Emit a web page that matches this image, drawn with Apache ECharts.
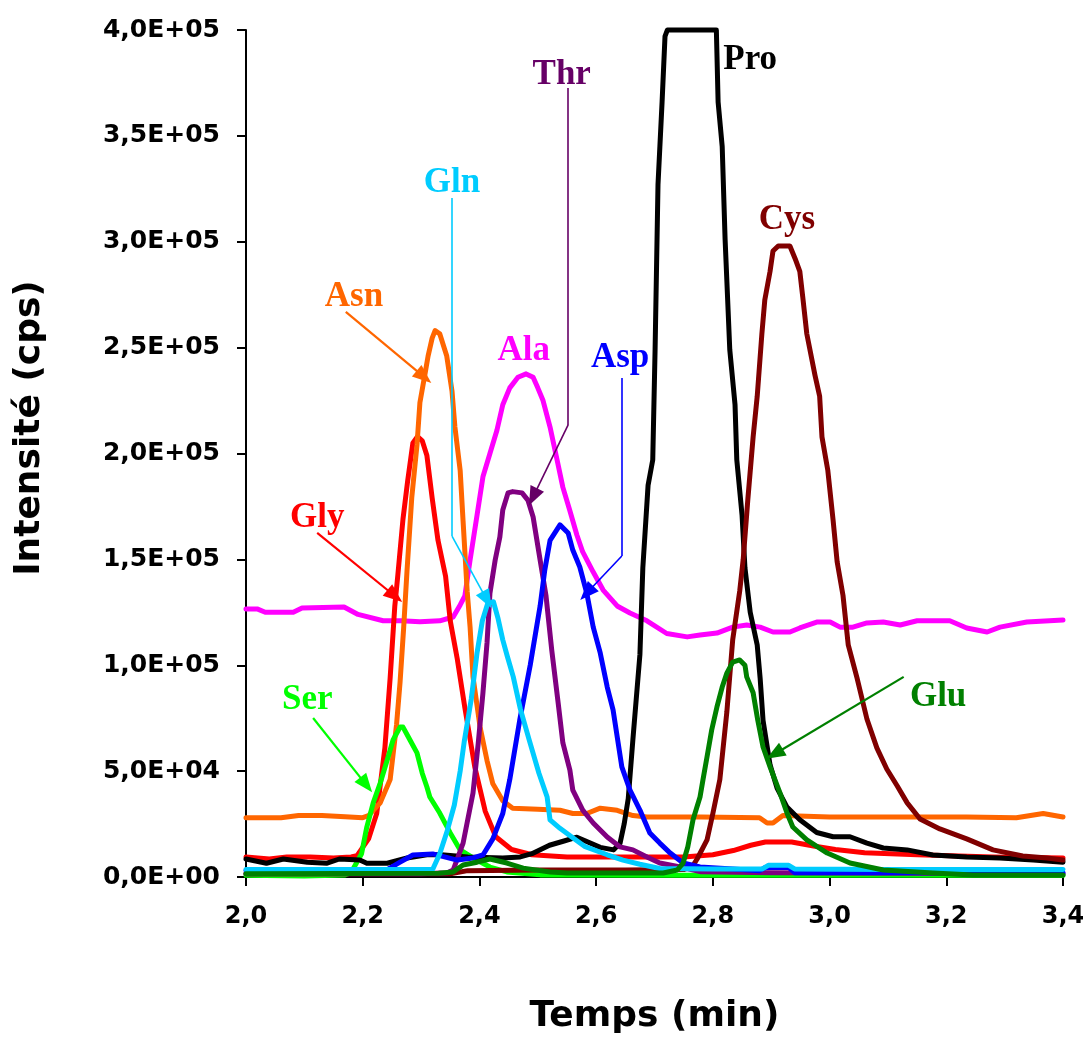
<!DOCTYPE html>
<html><head><meta charset="utf-8">
<script src="https://cdn.jsdelivr.net/npm/echarts@6/dist/echarts.min.js"></script>
<style>html,body{margin:0;padding:0;background:#fff}#c{width:1083px;height:1039px}</style>
</head><body><div id="c"></div>
<script>
// ---- data: [time (min), intensity (cps)] ----
const ala = [[2.0,126600],[2.019,126600],[2.033,125000],[2.081,125000],[2.096,127000],[2.168,127500],[2.192,124000],[2.235,121000],[2.266,121000],[2.298,120500],[2.332,121000],[2.355,122800],[2.367,128500],[2.375,132700],[2.384,149700],[2.396,171000],[2.406,189000],[2.418,200000],[2.43,211000],[2.44,223000],[2.452,231000],[2.466,236000],[2.48,237600],[2.492,236000],[2.5,231000],[2.509,225000],[2.521,212500],[2.533,197000],[2.543,184000],[2.555,173000],[2.567,161500],[2.577,153500],[2.595,144000],[2.612,135500],[2.636,128000],[2.658,124700],[2.687,121000],[2.721,115000],[2.756,113400],[2.778,114300],[2.807,115200],[2.834,118000],[2.858,119000],[2.881,118000],[2.903,115700],[2.932,115700],[2.949,117600],[2.978,120400],[3.001,120400],[3.018,118000],[3.04,118000],[3.064,120000],[3.092,120400],[3.121,119000],[3.15,121000],[3.206,121000],[3.235,117600],[3.27,115700],[3.292,118000],[3.338,120400],[3.4,121400]];
const gly = [[2.0,9500],[2.04,8500],[2.07,9500],[2.11,9500],[2.15,9000],[2.18,9500],[2.19,10000],[2.21,18000],[2.224,30000],[2.238,61000],[2.247,94000],[2.255,128000],[2.26,142000],[2.269,169000],[2.277,187000],[2.286,205000],[2.294,208000],[2.302,206000],[2.31,199000],[2.319,179000],[2.329,159000],[2.342,142000],[2.35,121000],[2.362,103000],[2.375,80000],[2.392,52000],[2.41,31000],[2.428,19000],[2.455,13000],[2.49,10500],[2.55,9500],[2.65,9500],[2.75,9500],[2.8,10500],[2.835,12500],[2.865,15000],[2.89,16500],[2.935,16500],[2.975,14500],[3.01,13000],[3.06,11500],[3.15,10500],[3.28,9500],[3.4,9000]];
const asn = [[2.0,28000],[2.06,28000],[2.09,29000],[2.13,29000],[2.17,28500],[2.2,28000],[2.21,29000],[2.23,35000],[2.247,46000],[2.258,72000],[2.264,92000],[2.27,117000],[2.276,145000],[2.284,179000],[2.293,204000],[2.298,224000],[2.307,238000],[2.312,246000],[2.319,254500],[2.324,258000],[2.332,256500],[2.344,246000],[2.353,229500],[2.358,212500],[2.367,192000],[2.372,168000],[2.379,135000],[2.384,118000],[2.389,94500],[2.401,71000],[2.413,55000],[2.423,44000],[2.44,36000],[2.457,32500],[2.5,32000],[2.538,31500],[2.56,30000],[2.584,30000],[2.607,32500],[2.636,31500],[2.663,29000],[2.687,28300],[2.78,28300],[2.88,28000],[2.893,25500],[2.903,25500],[2.92,29000],[3.0,28300],[3.1,28300],[3.235,28300],[3.32,28000],[3.366,30000],[3.4,28300]];
const ser = [[2.0,800],[2.1,500],[2.17,1000],[2.18,2000],[2.198,11000],[2.207,23600],[2.218,35000],[2.23,44400],[2.242,55300],[2.252,64700],[2.264,70800],[2.269,70800],[2.281,64700],[2.293,58600],[2.302,49000],[2.31,42500],[2.315,37800],[2.332,30200],[2.35,20800],[2.367,12800],[2.389,9000],[2.418,4700],[2.447,2400],[2.504,1000],[2.7,800],[3.0,800],[3.4,800]];
const gln = [[2.0,3500],[2.1,3500],[2.2,3500],[2.32,3700],[2.332,11000],[2.345,22000],[2.357,34000],[2.367,50000],[2.374,64000],[2.386,84000],[2.396,106000],[2.405,121000],[2.414,129000],[2.424,130000],[2.432,122000],[2.44,112000],[2.448,104000],[2.458,94500],[2.47,79500],[2.485,65000],[2.502,49000],[2.516,37800],[2.521,27000],[2.538,23000],[2.56,18500],[2.58,14500],[2.619,10500],[2.646,8000],[2.675,6000],[2.709,4000],[2.8,3800],[2.885,3800],[2.895,5500],[2.93,5500],[2.94,3800],[3.1,3600],[3.4,3500]];
const thr = [[2.0,1500],[2.3,1500],[2.345,2000],[2.355,3300],[2.372,16000],[2.389,39700],[2.398,63300],[2.406,86900],[2.413,110500],[2.418,134000],[2.427,149700],[2.435,160600],[2.44,173300],[2.449,181400],[2.457,182000],[2.473,181400],[2.483,178000],[2.492,170000],[2.504,149700],[2.514,133000],[2.524,107000],[2.535,82000],[2.543,63300],[2.555,50500],[2.56,41000],[2.577,31600],[2.595,25500],[2.619,18900],[2.641,14200],[2.663,12800],[2.687,9400],[2.709,6600],[2.744,4700],[2.78,2500],[2.9,2000],[3.4,1500]];
const asp = [[2.0,3000],[2.2,3300],[2.242,3500],[2.264,7000],[2.286,10400],[2.32,10900],[2.362,8000],[2.389,9000],[2.406,10400],[2.423,18000],[2.44,30000],[2.452,46000],[2.469,74000],[2.487,100000],[2.504,128000],[2.512,145000],[2.521,159000],[2.538,166300],[2.552,162500],[2.56,154400],[2.572,146400],[2.584,134000],[2.595,118000],[2.607,105800],[2.619,89700],[2.629,78900],[2.644,52000],[2.658,41000],[2.675,31600],[2.692,20800],[2.709,16000],[2.727,11300],[2.749,6600],[2.778,4700],[2.834,3800],[2.88,3000],[2.89,4500],[2.93,4500],[2.94,2000],[3.4,2000]];
const pro = [[2.0,8500],[2.035,6500],[2.064,8500],[2.105,7000],[2.139,6500],[2.16,8500],[2.195,8000],[2.207,6500],[2.242,6500],[2.276,9000],[2.31,10500],[2.335,10500],[2.38,9500],[2.44,9000],[2.47,9500],[2.49,11000],[2.52,15000],[2.545,17000],[2.567,18800],[2.607,14000],[2.63,12800],[2.641,16000],[2.648,25000],[2.655,37000],[2.663,65000],[2.675,105000],[2.68,146000],[2.689,185000],[2.697,197000],[2.701,249000],[2.706,327000],[2.713,366000],[2.718,397000],[2.722,400000],[2.75,400000],[2.78,400000],[2.806,400000],[2.809,366000],[2.816,345000],[2.821,301000],[2.829,249000],[2.838,223000],[2.841,197000],[2.85,171000],[2.855,146000],[2.864,125000],[2.876,109600],[2.881,94000],[2.886,74000],[2.898,53000],[2.91,42000],[2.927,33000],[2.949,27000],[2.978,21000],[3.006,19000],[3.035,19000],[3.064,16000],[3.092,13700],[3.133,12800],[3.177,10400],[3.235,9400],[3.292,9000],[3.349,8000],[3.4,7000]];
const cys = [[2.0,1500],[2.35,1500],[2.38,3000],[2.5,3300],[2.65,3300],[2.75,3500],[2.765,5000],[2.773,8500],[2.79,17500],[2.8,30000],[2.812,46000],[2.824,78000],[2.834,112000],[2.846,135000],[2.852,150000],[2.86,178500],[2.869,207800],[2.876,227000],[2.884,256500],[2.889,272500],[2.898,286000],[2.903,295600],[2.912,298000],[2.932,298000],[2.941,292000],[2.949,286000],[2.954,274000],[2.961,256500],[2.975,237000],[2.983,227000],[2.987,207800],[2.997,192000],[3.006,168600],[3.013,148800],[3.023,133000],[3.032,109600],[3.047,94000],[3.064,74600],[3.081,61000],[3.098,51000],[3.116,43000],[3.133,35000],[3.155,27400],[3.189,22700],[3.235,18000],[3.28,12800],[3.331,9900],[3.373,9000],[3.4,8000]];
const glu = [[2.0,1500],[2.33,1800],[2.355,2400],[2.372,5700],[2.396,7000],[2.418,8500],[2.447,6600],[2.475,4200],[2.521,2400],[2.55,1900],[2.715,1900],[2.739,3300],[2.749,6600],[2.757,14200],[2.766,27000],[2.778,37800],[2.783,45800],[2.79,56700],[2.798,69400],[2.807,80300],[2.816,89700],[2.824,96300],[2.834,101500],[2.846,102500],[2.855,100000],[2.858,94500],[2.869,87000],[2.877,74000],[2.886,61400],[2.898,52000],[2.915,39700],[2.927,30200],[2.937,23600],[2.961,17500],[2.996,11300],[3.035,6600],[3.092,3300],[3.177,1900],[3.246,1000],[3.4,1000]];

const xTickLabels = ['2,0','2,2','2,4','2,6','2,8','3,0','3,2','3,4'];
const yTickLabels = ['0,0E+00','5,0E+04','1,0E+05','1,5E+05','2,0E+05','2,5E+05','3,0E+05','3,5E+05','4,0E+05'];

// ---- styling / annotation config (data coordinates) ----
const seriesDefs = [
  {name:'Ala', data:ala, color:'#FF00FF', label:[2.476,248400]},
  {name:'Gly', data:gly, color:'#FF0000', label:[2.122,169600], path:[[2.122,162500],[2.255,132700]]},
  {name:'Asn', data:asn, color:'#FF6600', label:[2.185,274000], path:[[2.171,266900],[2.305,236200]]},
  {name:'Ser', data:ser, color:'#00FF00', label:[2.105,83600], path:[[2.115,75100],[2.206,43500]]},
  {name:'Pro', data:pro, color:'#000000', label:[2.864,385900], noClip:true},
  {name:'Cys', data:cys, color:'#800000', label:[2.927,310300]},
  {name:'Thr', data:thr, color:'#800080', labelColor:'#660066', label:[2.541,378800], path:[[2.552,372600],[2.552,213500],[2.492,179500]], thin:true},
  {name:'Asp', data:asp, color:'#0000FF', label:[2.641,245000], path:[[2.644,235700],[2.644,151600],[2.584,134100]], thin:true},
  {name:'Gln', data:gln, color:'#00CCFF', label:[2.353,327800], path:[[2.353,320700],[2.353,161000],[2.413,130800]], thin:true},
  {name:'Glu', data:glu, color:'#008000', label:[3.186,85000], path:[[3.127,94500],[2.906,58100]]}
];

const series = seriesDefs.map(d => {
  const lc = d.labelColor || d.color;
  const s = {
    type:'line', name:d.name, data:d.data, symbol:'none', showSymbol:false,
    clip: !d.noClip, silent:true, animation:false,
    lineStyle:{color:d.color, width:5, join:'round', cap:'round'},
    itemStyle:{color:d.color},
    markPoint:{
      silent:true, animation:false, symbol:'circle', symbolSize:0,
      itemStyle:{color:'rgba(0,0,0,0)'},
      label:{show:true, position:'inside', formatter:d.name, color:lc,
             fontFamily:'Liberation Serif', fontWeight:'bold', fontSize:35},
      data:[{coord:d.label}]
    }
  };
  if (d.path) {
    const segs = [];
    for (let i = 0; i < d.path.length - 1; i++) {
      const last = i === d.path.length - 2;
      segs.push([
        {coord:d.path[i], symbol:'none'},
        {coord:d.path[i+1], symbol: last ? 'triangle' : 'none', symbolSize: last ? [15,19] : 0}
      ]);
    }
    s.markLine = {
      silent:true, animation:false, symbol:['none','none'],
      label:{show:false},
      lineStyle:{type:'solid', color:lc, width: d.thin ? 1.6 : 2.2},
      emphasis:{disabled:true},
      data:segs
    };
  }
  return s;
});

const axisFont = {fontFamily:'DejaVu Sans', fontWeight:'bold', color:'#000'};
const chart = echarts.init(document.getElementById('c'), null, {renderer:'canvas'});
chart.setOption({
  animation:false,
  backgroundColor:'#fff',
  grid:{left:246, right:20, top:30, bottom:162, containLabel:false, outerBoundsMode:'none'},
  xAxis:{
    type:'value', min:2.0, max:3.4, interval:0.2,
    name:'Temps (min)', nameLocation:'middle', nameGap:122,
    nameTextStyle:Object.assign({fontSize:36}, axisFont),
    axisLine:{show:true, onZero:false, lineStyle:{color:'#000', width:2}},
    axisTick:{show:true, inside:false, length:9, lineStyle:{color:'#000', width:2}},
    axisLabel:Object.assign({fontSize:24, margin:28,
      formatter:v => xTickLabels[Math.round((v - 2.0) / 0.2)]}, axisFont),
    splitLine:{show:false}
  },
  yAxis:{
    type:'value', min:0, max:400000, interval:50000,
    axisLine:{show:true, lineStyle:{color:'#000', width:2}},
    axisTick:{show:true, inside:false, length:9, lineStyle:{color:'#000', width:2}},
    axisLabel:Object.assign({fontSize:25, margin:26, padding:[0,0,8,0],
      formatter:v => yTickLabels[Math.round(v / 50000)]}, axisFont),
    splitLine:{show:false}
  },
  graphic:[{
    type:'text', x:30, y:428, rotation:Math.PI/2,
    style:{text:'Intensité (cps)', fontFamily:'DejaVu Sans', fontWeight:'bold', fontSize:36,
           fill:'#000', textAlign:'center', textVerticalAlign:'middle'}
  }],
  series:series
});
</script>
</body></html>
